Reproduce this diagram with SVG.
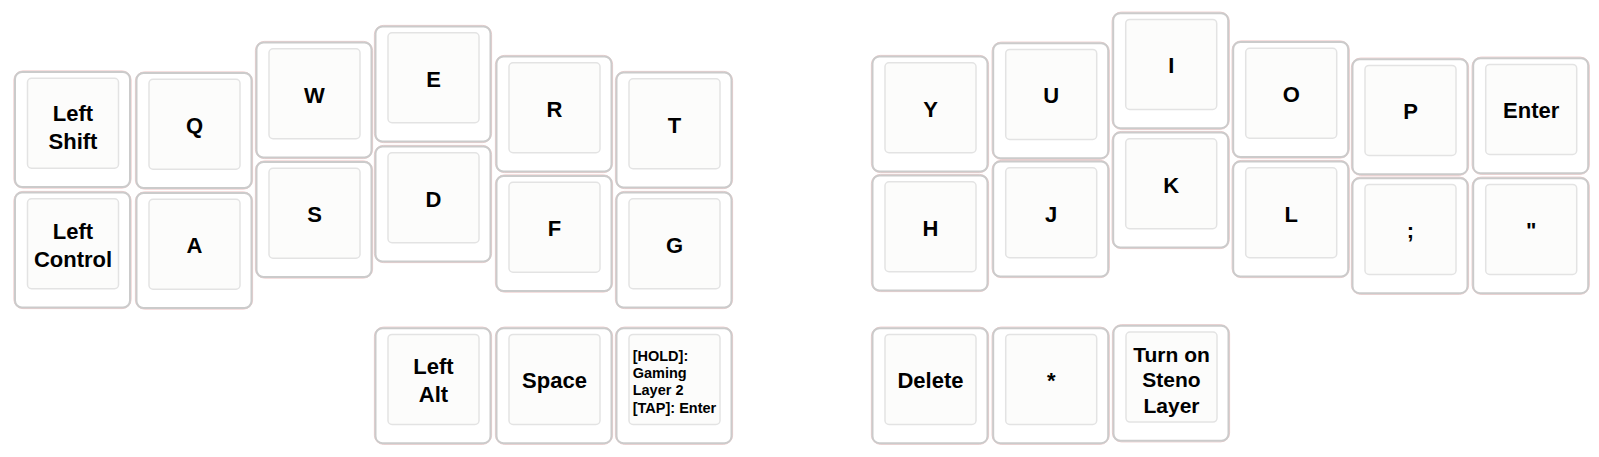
<svg xmlns="http://www.w3.org/2000/svg" xmlns:xlink="http://www.w3.org/1999/xlink" width="1599" height="457" viewBox="0 0 1599 457">
<style>
.pink{fill:#ffffff;stroke:#ebbcbc;stroke-width:0.8}
.side{fill:none;stroke:#cbcbcb;stroke-width:2}
.top{fill:#fcfcfb;stroke:#e3e3e3;stroke-width:1.5}
text{font-family:"Liberation Sans",Arial,sans-serif;font-weight:bold;fill:#000}
.c{font-size:22px;text-anchor:middle}
.s{font-size:21px;text-anchor:middle}
.h{font-size:14.5px}
</style>
<defs>
<g id="cap">
<rect class="pink" x="0.4" y="0.4" width="117.2" height="117.2" rx="9"/>
<rect class="side" x="1.5" y="1.5" width="115" height="115" rx="7"/>
<rect class="top" x="14" y="7.75" width="91" height="90" rx="4"/>
</g>
</defs>
<rect width="1599" height="457" fill="#ffffff"/>
<g id="key-left-shift" transform="translate(13.5,70.5)"><use href="#cap"/><text class="c" x="59.5" y="50.5">Left</text><text class="c" x="59.5" y="78">Shift</text></g>
<g id="key-left-control" transform="translate(13.5,191)"><use href="#cap"/><text class="c" x="59.5" y="47.5">Left</text><text class="c" x="59.5" y="75.5">Control</text></g>
<g id="key-q" transform="translate(135,71.5)"><use href="#cap"/><text class="c" x="59.5" y="61.5">Q</text></g>
<g id="key-a" transform="translate(135,191.5)"><use href="#cap"/><text class="c" x="59.5" y="61.5">A</text></g>
<g id="key-w" transform="translate(255,41)"><use href="#cap"/><text class="c" x="59.5" y="61.5">W</text></g>
<g id="key-s" transform="translate(255,160.5)"><use href="#cap"/><text class="c" x="59.5" y="61.5">S</text></g>
<g id="key-e" transform="translate(374,25)"><use href="#cap"/><text class="c" x="59.5" y="61.5">E</text></g>
<g id="key-d" transform="translate(374,145)"><use href="#cap"/><text class="c" x="59.5" y="61.5">D</text></g>
<g id="key-r" transform="translate(495,55)"><use href="#cap"/><text class="c" x="59.5" y="61.5">R</text></g>
<g id="key-f" transform="translate(495,174.5)"><use href="#cap"/><text class="c" x="59.5" y="61.5">F</text></g>
<g id="key-t" transform="translate(615,71)"><use href="#cap"/><text class="c" x="59.5" y="61.5">T</text></g>
<g id="key-g" transform="translate(615,191)"><use href="#cap"/><text class="c" x="59.5" y="61.5">G</text></g>
<g id="key-left-alt" transform="translate(374,326.7)"><use href="#cap"/><text class="c" x="59.5" y="47.5">Left</text><text class="c" x="59.5" y="75">Alt</text></g>
<g id="key-space" transform="translate(495,326.7)"><use href="#cap"/><text class="c" x="59.5" y="61.5">Space</text></g>
<g id="key-hold" transform="translate(615,326.7)"><use href="#cap"/><text class="h" x="17.7" y="34.3">[HOLD]:</text><text class="h" x="17.7" y="51.5">Gaming</text><text class="h" x="17.7" y="68.7">Layer 2</text><text class="h" x="17.7" y="86">[TAP]: Enter</text></g>
<g id="key-y" transform="translate(871,55)"><use href="#cap"/><text class="c" x="59.5" y="61.5">Y</text></g>
<g id="key-h" transform="translate(871,174)"><use href="#cap"/><text class="c" x="59.5" y="61.5">H</text></g>
<g id="key-u" transform="translate(991.7,41.7)"><use href="#cap"/><text class="c" x="59.5" y="61.5">U</text></g>
<g id="key-j" transform="translate(991.7,160)"><use href="#cap"/><text class="c" x="59.5" y="61.5">J</text></g>
<g id="key-i" transform="translate(1111.7,11.7)"><use href="#cap"/><text class="c" x="59.5" y="61.5">I</text></g>
<g id="key-k" transform="translate(1111.7,131)"><use href="#cap"/><text class="c" x="59.5" y="61.5">K</text></g>
<g id="key-o" transform="translate(1231.7,40.5)"><use href="#cap"/><text class="c" x="59.5" y="61.5">O</text></g>
<g id="key-l" transform="translate(1231.7,160)"><use href="#cap"/><text class="c" x="59.5" y="61.5">L</text></g>
<g id="key-p" transform="translate(1351,57.7)"><use href="#cap"/><text class="c" x="59.5" y="61.5">P</text></g>
<g id="key-semicolon" transform="translate(1351,176.7)"><use href="#cap"/><text class="c" x="59.5" y="61.5">;</text></g>
<g id="key-enter" transform="translate(1471.7,56.7)"><use href="#cap"/><text class="c" x="59.5" y="61">Enter</text></g>
<g id="key-quote" transform="translate(1471.7,176.7)"><use href="#cap"/><text class="c" x="59.5" y="61.5">"</text></g>
<g id="key-delete" transform="translate(871,326.7)"><use href="#cap"/><text class="c" x="59.5" y="61">Delete</text></g>
<g id="key-star" transform="translate(991.7,326.7)"><use href="#cap"/><text class="c" x="59.5" y="61.5">*</text></g>
<g id="key-steno" transform="translate(1112,324.3)"><use href="#cap"/><text class="s" x="59.5" y="37.4">Turn on</text><text class="s" x="59.5" y="63">Steno</text><text class="s" x="59.5" y="88.4">Layer</text></g>
</svg>
